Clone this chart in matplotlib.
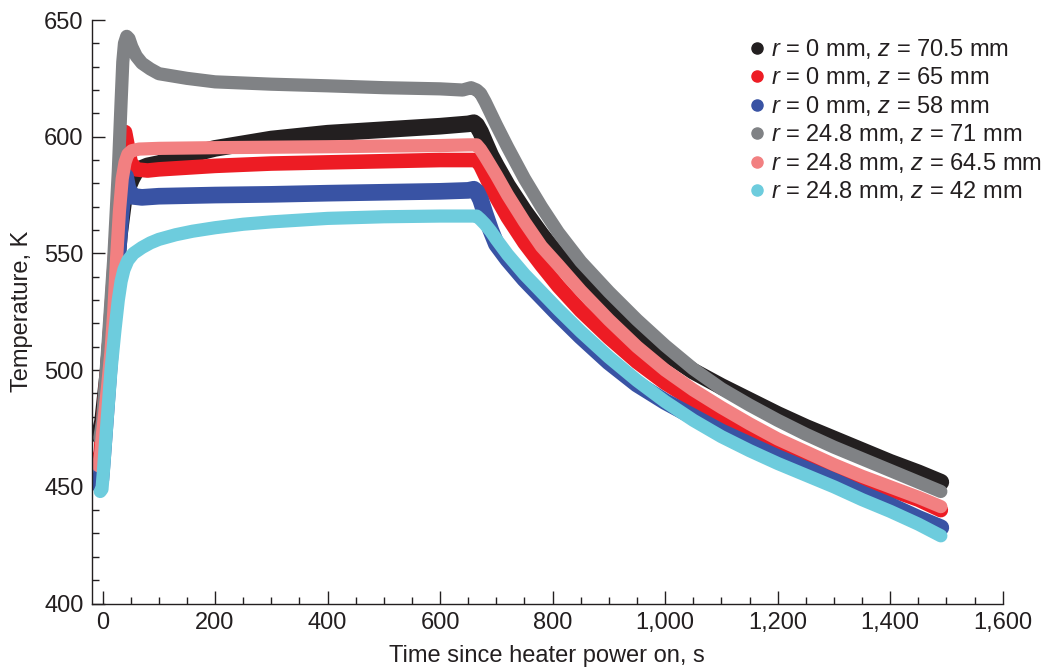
import matplotlib
matplotlib.use("Agg")
import matplotlib.pyplot as plt
from matplotlib.lines import Line2D
from matplotlib.ticker import MultipleLocator, FuncFormatter

# thermocouple readings, time in s and temperature in K
time_black = [-6, 0, 10, 20, 30, 38, 45, 52, 60, 80, 100, 150, 200, 300, 400, 500, 600, 650, 660,
              665, 672, 680, 690, 700, 720, 750, 780, 810, 850, 900, 950, 1000, 1050, 1100, 1150, 1200, 1250, 1300, 1350, 1400, 1450, 1490]
temp_black = [472, 478, 500, 530, 558, 573, 578, 582, 585.5, 587.5, 588.5, 592, 595, 599, 601.5, 603, 604.5, 605.5, 606,
              605, 602, 597.5, 592, 587.5, 579, 568, 558, 549, 538.5, 527, 516.5, 507.5, 499.5, 493, 487, 481, 475.5, 470.5, 465.5, 460.5, 456, 452]

time_red = [-8, -3, 0, 10, 20, 30, 36, 40, 44, 50, 60, 80, 100, 200, 300, 400, 500, 600, 650,
            665, 672, 680, 690, 700, 720, 750, 780, 810, 850, 900, 950, 1000, 1050, 1100, 1150, 1200, 1250, 1300, 1350, 1400, 1450, 1490]
temp_red = [460, 465, 475, 505, 540, 578, 598, 602, 597, 589, 586, 585.5, 586, 587.5, 588.5, 589, 589.5, 590, 590,
            590, 587.5, 583.5, 578.5, 574, 565.5, 554.5, 545, 536, 525.5, 514, 503.5, 494.5, 487, 480.5, 474.5, 469, 463.5, 458, 453.3, 448.8, 444.5, 440]

time_blue = [-6, -3, 0, 10, 20, 30, 37, 41, 45, 52, 70, 100, 200, 300, 400, 500, 600, 650, 660,
             665, 672, 680, 690, 700, 720, 750, 780, 810, 850, 900, 950, 1000, 1050, 1100, 1150, 1200, 1250, 1300, 1350, 1400, 1450, 1490]
temp_blue = [451, 453, 462, 495, 528, 558, 578, 583, 578, 574.5, 574, 574.5, 575, 575.3, 575.8, 576.2, 576.6, 577, 577.5,
             576.5, 573, 567, 560, 554, 547.5, 539, 531.5, 524, 514.5, 503.5, 494, 486.5, 480, 473.5, 468, 462.5, 457.5, 452.5, 447, 442, 436.5, 432.5]

time_gray = [-5, 0, 10, 20, 28, 33, 36, 39, 43, 47, 52, 60, 70, 85, 100, 150, 200, 300, 400, 500, 600, 640, 655,
             665, 672, 680, 690, 700, 720, 750, 780, 810, 850, 900, 950, 1000, 1050, 1100, 1150, 1200, 1250, 1300, 1350, 1400, 1450, 1490]
temp_gray = [471, 478, 512, 548, 585, 615, 632, 640, 643, 642, 638.5, 634.5, 631.5, 629, 627, 625, 623.5, 622.5, 621.8, 621, 620.5, 620, 621,
             620, 618.5, 615, 610, 605, 595.5, 582, 570, 559, 546.5, 533.5, 521.5, 510.5, 500.5, 492, 485, 478.5, 472.5, 467, 462, 457, 452, 448]

time_pink = [-7, -3, 0, 9, 15, 20, 25, 30, 35, 40, 45, 52, 65, 100, 200, 300, 400, 500, 600, 650,
             665, 672, 680, 690, 700, 720, 750, 780, 810, 850, 900, 950, 1000, 1050, 1100, 1150, 1200, 1250, 1300, 1350, 1400, 1450, 1490]
temp_pink = [459, 465, 473, 493, 508, 525, 548, 568, 582, 589, 592.5, 594, 594.7, 595, 595.3, 595.5, 595.7, 596, 596.2, 596.5,
             596.5, 594.5, 591.5, 587.5, 583.5, 575, 563.5, 553, 545, 534, 521.5, 510, 500, 491.5, 484, 477, 470.5, 465, 459.5, 454.5, 450, 445.5, 441.5]

time_cyan = [-4, -1, 2, 8, 15, 22, 28, 33, 38, 45, 55, 70, 85, 100, 130, 160, 200, 250, 300, 400, 500, 600, 650,
             665, 672, 680, 690, 700, 720, 750, 780, 810, 850, 900, 950, 1000, 1050, 1100, 1150, 1200, 1250, 1300, 1350, 1400, 1450, 1490]
temp_cyan = [448, 449, 458, 478, 500, 517, 530, 538, 543, 547, 550, 552.5, 554.5, 556, 558, 559.5, 561, 562.5, 563.5, 565, 565.7, 566, 566,
             566, 564.5, 562.5, 559.5, 556, 549.5, 541, 533.5, 526, 516.5, 505.5, 495.5, 486.5, 478.5, 471.5, 465.5, 460, 455, 450, 444.5, 439.5, 434, 429]

labels = ["$r$ = 0 mm, $z$ = 70.5 mm", "$r$ = 0 mm, $z$ = 65 mm", "$r$ = 0 mm, $z$ = 58 mm",
          "$r$ = 24.8 mm, $z$ = 71 mm", "$r$ = 24.8 mm, $z$ = 64.5 mm", "$r$ = 24.8 mm, $z$ = 42 mm"]

plt.rcParams["font.family"] = ["Liberation Sans", "DejaVu Sans"]
plt.rcParams["font.size"] = 17
plt.rcParams["mathtext.fontset"] = "custom"
plt.rcParams["mathtext.rm"] = "Liberation Sans"
plt.rcParams["mathtext.it"] = "Liberation Sans:italic"

ink = "#231f20"
series = [
    (time_black, temp_black, "#231f20", 12),
    (time_red, temp_red, "#ed1c24", 10.5),
    (time_blue, temp_blue, "#3953a4", 12),
    (time_gray, temp_gray, "#808285", 9.5),
    (time_pink, temp_pink, "#f28081", 9.5),
    (time_cyan, temp_cyan, "#6dccdd", 9.5),
]

fig = plt.figure(figsize=(10.48, 6.69), dpi=100)
ax = fig.add_axes([0.0878, 0.0979, 0.869, 0.8722])

handles = []
for (t, T, c, lw), lab in zip(series, labels):
    ax.plot(t, T, color=c, lw=lw, solid_capstyle="round", solid_joinstyle="round")
    handles.append(Line2D([], [], ls="none", marker="o", ms=8, color=c, label=lab))

ax.set_xlim(-18.7, 1600)
ax.set_ylim(400, 650)
ax.set_xticks(range(0, 1601, 200))
ax.xaxis.set_minor_locator(MultipleLocator(50))
ax.yaxis.set_major_locator(MultipleLocator(50))
ax.yaxis.set_minor_locator(MultipleLocator(10))
ax.xaxis.set_major_formatter(FuncFormatter(lambda v, p: f"{int(v):,}"))

for s in ["top", "right"]:
    ax.spines[s].set_visible(False)
for s in ["left", "bottom"]:
    ax.spines[s].set_color(ink)
    ax.spines[s].set_linewidth(1)
ax.tick_params(which="major", direction="in", length=9.5, width=1, color=ink, labelcolor=ink, pad=6)
ax.tick_params(which="minor", direction="in", length=5, width=1, color=ink)

ax.set_xlabel("Time since heater power on, s", color=ink, labelpad=8)
ax.set_ylabel("Temperature, K", color=ink, labelpad=8)

fig.legend(handles=handles, loc="upper left", bbox_to_anchor=(750 / 1048, 1 - 37 / 669),
           frameon=False, borderpad=0, borderaxespad=0, handlelength=0.6, handletextpad=0.3,
           labelspacing=0.19, labelcolor=ink)

fig.savefig("out.png", dpi=100)
